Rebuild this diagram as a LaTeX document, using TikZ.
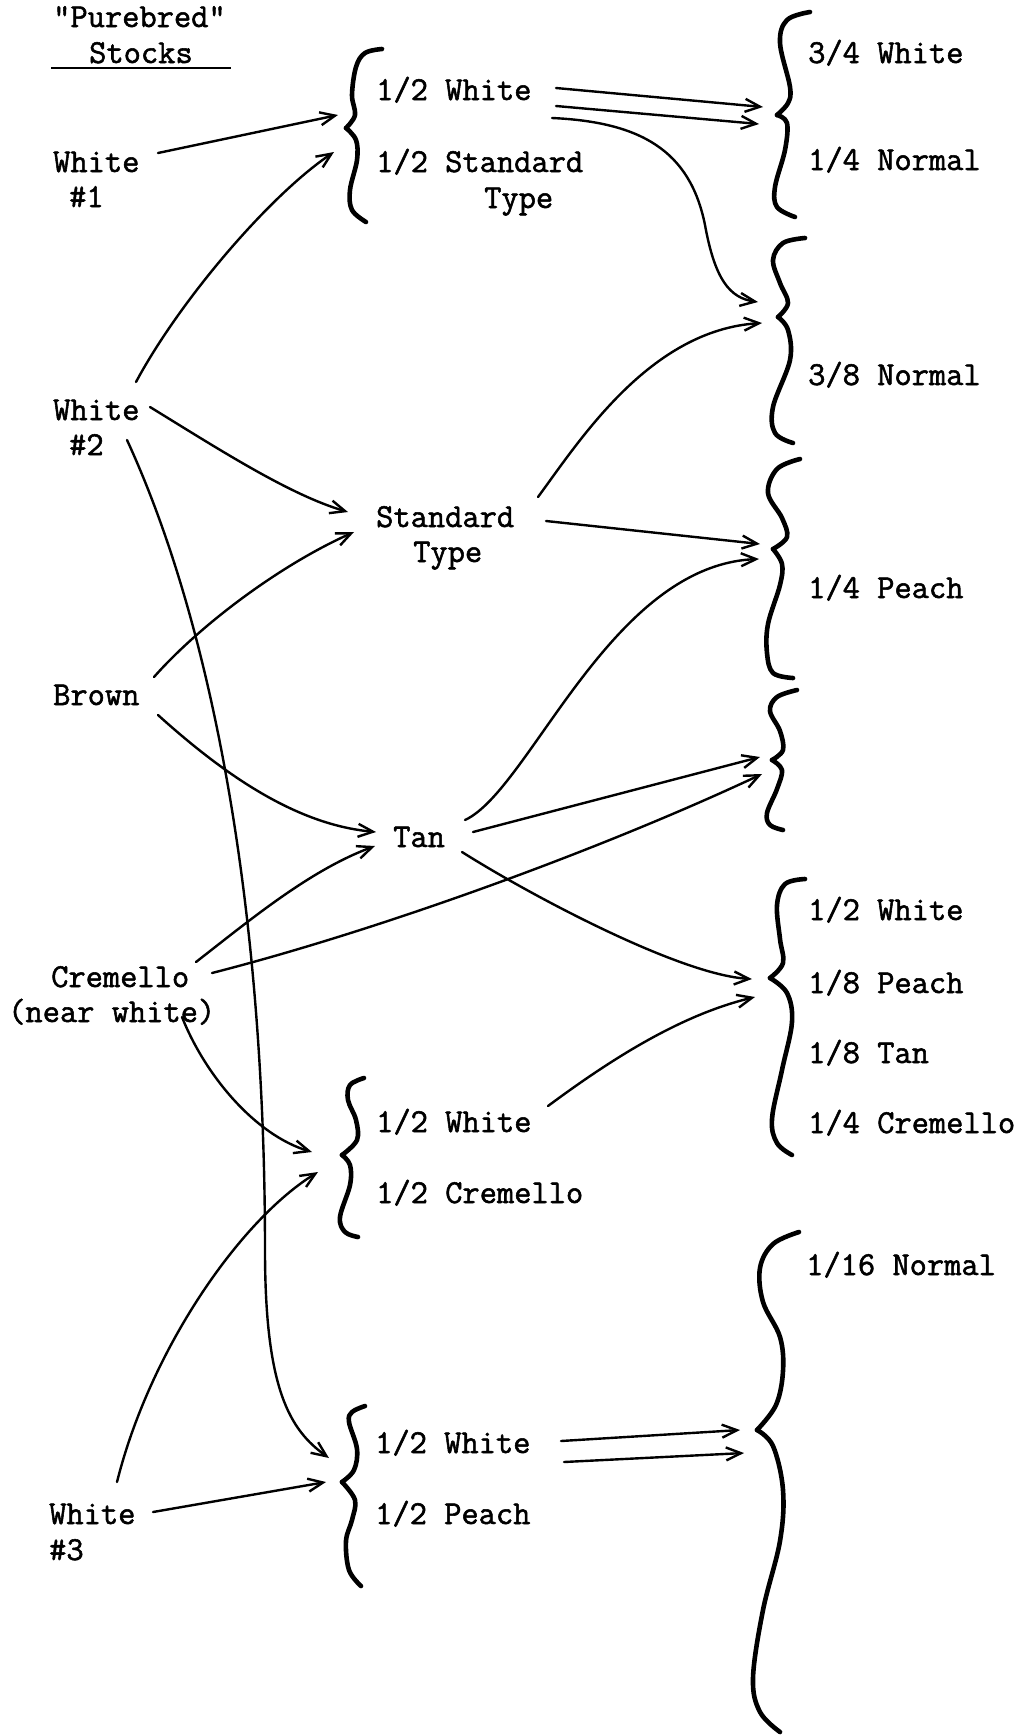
\documentclass[tikz,border=0pt]{standalone}
\usepackage{fontspec}
\newfontfamily\tw[FakeBold=1.6]{Latin Modern Mono}
\usetikzlibrary{arrows.meta}
\begin{document}
\begin{tikzpicture}[x=1pt,y=-1pt,
  lbl/.style={anchor=base west,inner sep=0pt,font=\tw\fontsize{33.5}{38}\selectfont},
  conn/.style={line width=2.4pt,line cap=round,-{Straight Barb[length=15pt,width=13pt]}},
  brc/.style={line width=4.6pt,line cap=round,line join=round}]
\useasboundingbox[fill=white] (0,0) rectangle (1023,1735);

% ---------- left column ----------
\node[lbl] (pure)  at (53,27)  {"Purebred"};
\node[lbl] (stock) at (89,63)  {Stocks};
\draw[line width=2.2pt] (51,68) coordinate (ul1) -- (231,68) coordinate (ul2);
\node[lbl] (w1)  at (53,172) {White};
\node[lbl] (w1b) at (69,207) {\#1};
\node[lbl] (w2)  at (53,420) {White};
\node[lbl] (w2b) at (69,455) {\#2};
\node[lbl] (brown) at (53,705) {Brown};
\node[lbl] (crem)  at (51,987) {Cremello};
\node[lbl] (cremb) at (8,1022) {(near white)};
\node[lbl] (w3)  at (49,1524) {White};
\node[lbl] (w3b) at (49,1560) {\#3};

% ---------- middle column ----------
\node[lbl] (ta) at (376,100) {1/2 White};
\node[lbl] (tb) at (376,172) {1/2 Standard};
\node[lbl] (tc) at (484,208) {Type};
\node[lbl] (std)  at (376,527) {Standard};
\node[lbl] (stdb) at (413,562) {Type};
\node[lbl] (tan)  at (393,847) {Tan};
\node[lbl] (ca) at (376,1132) {1/2 White};
\node[lbl] (cb) at (376,1203) {1/2 Cremello};
\node[lbl] (pa) at (375,1453) {1/2 White};
\node[lbl] (pb) at (375,1524) {1/2 Peach};

% ---------- right column ----------
\node[lbl] (r1) at (808,63)   {3/4 White};
\node[lbl] (r2) at (808,170)  {1/4 Normal};
\node[lbl] (r3) at (808,385)  {3/8 Normal};
\node[lbl] (r4) at (808,598)  {1/4 Peach};
\node[lbl] (r5) at (808,920)  {1/2 White};
\node[lbl] (r6) at (808,993)  {1/8 Peach};
\node[lbl] (r7) at (808,1063) {1/8 Tan};
\node[lbl] (r8) at (808,1133) {1/4 Cremello};
\node[lbl] (r9) at (806,1275) {1/16 Normal};

% ---------- braces ----------
% b1
\draw[brc] plot[smooth,tension=0.6] coordinates {(382,49) (365,53) (356,67) (352,95) (355,115) (346,128)};
\draw[brc] plot[smooth,tension=0.6] coordinates {(346,128) (356,140) (357,160) (350,190) (352,210) (366,222)};
% b2
\draw[brc] plot[smooth,tension=0.6] coordinates {(810,12) (787,20) (780,43) (790,87) (788,103) (777,115)};
\draw[brc] plot[smooth,tension=0.6] coordinates {(777,115) (787,123) (785,150) (775,187) (777,207) (795,217)};
% b3
\draw[brc] plot[smooth,tension=0.6] coordinates {(805,238) (783,243) (773,260) (780,283) (788,303) (778,317)};
\draw[brc] plot[smooth,tension=0.6] coordinates {(778,317) (788,330) (790,360) (773,407) (775,433) (793,443)};
% b4
\draw[brc] plot[smooth,tension=0.6] coordinates {(800,459) (777,469) (768,493) (782,518) (787,537) (773,549)};
\draw[brc] plot[smooth,tension=0.6] coordinates {(773,549) (782,564) (780,585) (768,624) (767,653) (773,673) (793,678)};
% b5
\draw[brc] plot[smooth,tension=0.6] coordinates {(797,690) (777,697) (770,711) (780,731) (783,750) (772,760)};
\draw[brc] plot[smooth,tension=0.6] coordinates {(772,760) (782,770) (777,789) (767,813) (770,825) (783,830)};
% b6
\draw[brc] plot[smooth,tension=0.6] coordinates {(805,879) (785,884) (777,905) (780,939) (783,963) (770,978)};
\draw[brc] plot[smooth,tension=0.6] coordinates {(770,978) (787,993) (792,1022) (782,1070) (772,1119) (777,1143) (792,1155)};
% b7
\draw[brc] plot[smooth,tension=0.6] coordinates {(364,1078) (350,1085) (348,1100) (356,1120) (357,1140) (342,1155)};
\draw[brc] plot[smooth,tension=0.6] coordinates {(342,1155) (350,1165) (350,1185) (340,1217) (345,1232) (358,1237)};
% b8
\draw[brc] plot[smooth,tension=0.6] coordinates {(365,1406) (352,1412) (349,1422) (357,1449) (354,1470) (342,1482)};
\draw[brc] plot[smooth,tension=0.6] coordinates {(342,1482) (355,1500) (352,1520) (346,1541) (349,1570) (361,1586)};
% b9
\draw[brc] plot[smooth,tension=0.6] coordinates {(799,1232) (773,1244) (760,1268) (763,1302) (780,1337) (783,1371) (776,1405) (757,1430)};
\draw[brc] plot[smooth,tension=0.6] coordinates {(757,1430) (773,1446) (783,1490) (780,1541) (763,1610) (753,1678) (760,1712) (780,1732)};

% ---------- connector end points ----------
\coordinate (w1o)  at (158,153);
\coordinate (w2o1) at (136,382);
\coordinate (w2o2) at (150,407);
\coordinate (w2o3) at (127,440);
\coordinate (bro1) at (154,677);
\coordinate (bro2) at (158,715);
\coordinate (cro1) at (196,962);
\coordinate (cro2) at (212,973);
\coordinate (cro3) at (182,1017);
\coordinate (w3o1) at (117,1482);
\coordinate (w3o2) at (153,1512);
\coordinate (tao1) at (556,88);
\coordinate (tao2) at (556,106);
\coordinate (tao3) at (552,118);
\coordinate (sto1) at (538,497);
\coordinate (sto2) at (546,521);
\coordinate (tno1) at (465,820);
\coordinate (tno2) at (473,832);
\coordinate (tno3) at (462,852);
\coordinate (cao)  at (548,1106);
\coordinate (pao1) at (561,1441);
\coordinate (pao2) at (564,1462);

\coordinate (b1i1) at (338,115);
\coordinate (b1i2) at (334,152);
\coordinate (b2i1) at (763,107);
\coordinate (b2i2) at (759,124);
\coordinate (b3i1) at (758,302);
\coordinate (b3i2) at (762,323);
\coordinate (b4i1) at (760,544);
\coordinate (b4i2) at (759,559);
\coordinate (b5i1) at (760,757);
\coordinate (b5i2) at (762,774);
\coordinate (b6i1) at (752,979);
\coordinate (b6i2) at (755,997);
\coordinate (b7i1) at (312,1152);
\coordinate (b7i2) at (318,1172);
\coordinate (b8i1) at (329,1458);
\coordinate (b8i2) at (326,1482);
\coordinate (b9i1) at (740,1430);
\coordinate (b9i2) at (744,1453);
\coordinate (stin1) at (348,512);
\coordinate (stin2) at (354,532);
\coordinate (tnin1) at (376,832);
\coordinate (tnin2) at (375,846);

% ---------- connectors ----------
\draw[conn] (w1o) -- (b1i1);
\draw[conn] (w2o1) .. controls (180,300) and (270,195) .. (b1i2);
\draw[conn] (w2o2) .. controls (220,450) and (290,495) .. (stin1);
\draw[conn] (w2o3) .. controls (210,620) and (265,900) .. (265,1250) .. controls (265,1390) and (290,1430) .. (b8i1);
\draw[conn] (bro1) .. controls (200,625) and (280,565) .. (stin2);
\draw[conn] (bro2) .. controls (230,780) and (300,825) .. (tnin1);
\draw[conn] (cro1) .. controls (250,920) and (310,870) .. (tnin2);
\draw[conn] (cro2) .. controls (380,930) and (600,850) .. (b5i2);
\draw[conn] (cro3) .. controls (205,1075) and (255,1135) .. (b7i1);
\draw[conn] (w3o1) .. controls (150,1350) and (240,1220) .. (b7i2);
\draw[conn] (w3o2) -- (b8i2);
\draw[conn] (tao1) -- (b2i1);
\draw[conn] (tao2) -- (b2i2);
\draw[conn] (tao3) .. controls (640,122) and (690,150) .. (705,225) .. controls (715,280) and (730,298) .. (b3i1);
\draw[conn] (sto1) .. controls (580,440) and (650,330) .. (b3i2);
\draw[conn] (sto2) -- (b4i1);
\draw[conn] (tno1) .. controls (530,790) and (610,565) .. (b4i2);
\draw[conn] (tno2) -- (b5i1);
\draw[conn] (tno3) .. controls (530,895) and (680,975) .. (b6i1);
\draw[conn] (cao) .. controls (610,1060) and (680,1015) .. (b6i2);
\draw[conn] (pao1) -- (b9i1);
\draw[conn] (pao2) -- (b9i2);
\end{tikzpicture}
\end{document}
